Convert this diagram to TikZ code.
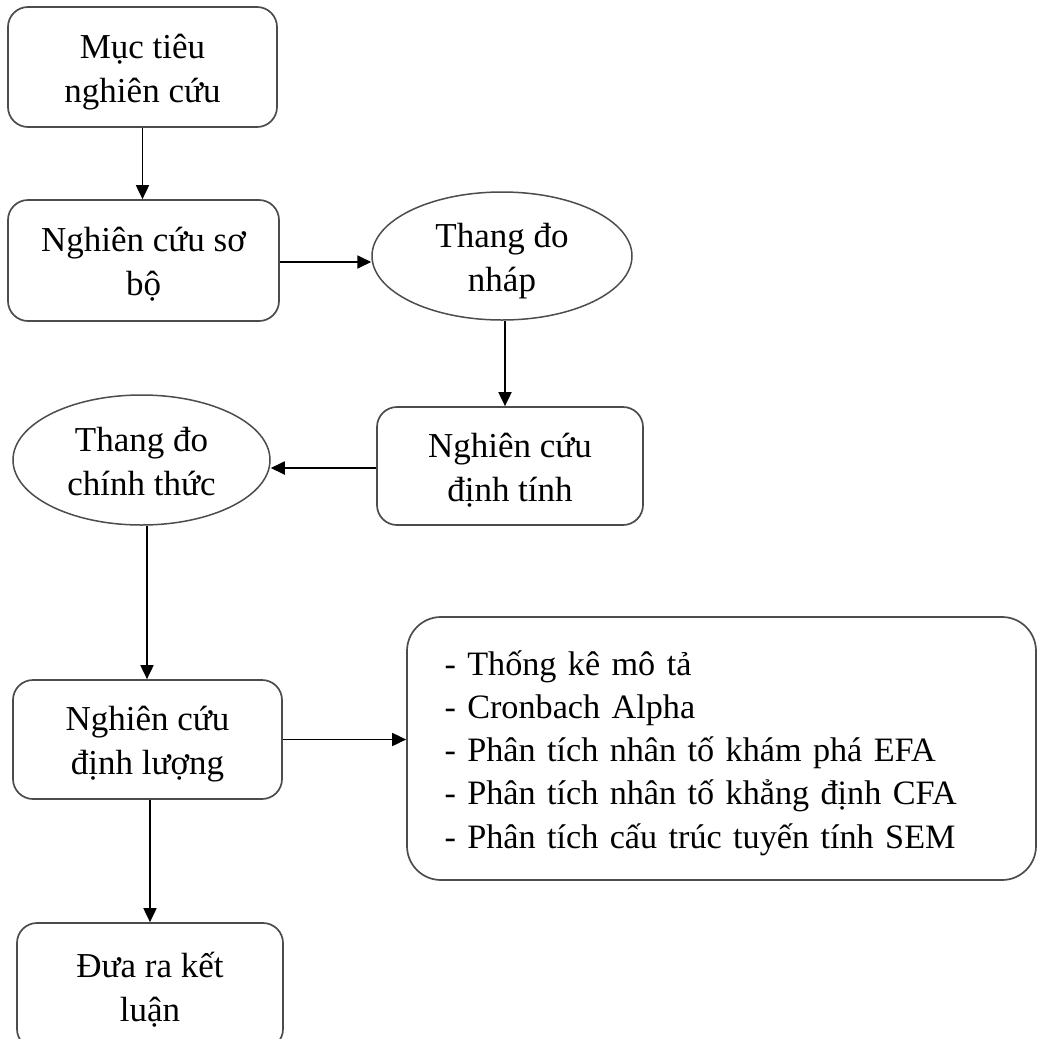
\documentclass[tikz,border=0pt]{standalone}
\usepackage{fontspec}
\setmainfont{Liberation Serif}
\usetikzlibrary{arrows.meta,shapes.geometric,calc}

\begin{document}
\begin{tikzpicture}[x=1pt,y=-1pt,
  txt/.style={font=\fontsize{35}{44}\selectfont, align=center, text=black,
    text height=78pt, text depth=8pt},
  stepbox/.style={txt, draw=black!70, line width=1.7pt, rounded corners=20pt,
    inner sep=0pt},
  oval/.style={txt, ellipse, draw=black!70, line width=1.5pt, inner sep=0pt},
  arr/.style={draw=black, line width=1.8pt, -{Triangle[length=14pt,width=13pt]}}]

\useasboundingbox (0,0) rectangle (1039,1039);

% process boxes and scales
\node[stepbox, minimum width=269pt, minimum height=120pt] (b1) at (142.5,67)
  {Mục tiêu\\nghiên cứu};
\node[stepbox, minimum width=271pt, minimum height=121pt] (b2) at (143.5,260.5)
  {Nghiên cứu sơ\\bộ};
\node[oval, minimum width=260pt, minimum height=128pt] (e1) at (502,256)
  {Thang đo\\nháp};
\node[stepbox, minimum width=266pt, minimum height=118pt] (b3) at (510,466)
  {Nghiên cứu\\định tính};
\node[oval, minimum width=257pt, minimum height=130pt] (e2) at (141.5,460)
  {Thang đo\\chính thức};
\node[stepbox, minimum width=269pt, minimum height=119pt] (b4) at (147.5,739.5)
  {Nghiên cứu\\định lượng};
\node[stepbox, font=\fontsize{34.2}{43.25}\selectfont, text height=30pt,
  text depth=177pt, rounded corners=34pt, minimum width=629pt,
  minimum height=263pt, text width=554pt, align=left, inner xsep=37.5pt]
  (b6) at (721.5,748.5)
  {- Thống kê mô tả\\
   - Cronbach Alpha\\
   - Phân tích nhân tố khám phá EFA\\
   - Phân tích nhân tố khẳng định CFA\\
   - Phân tích cấu trúc tuyến tính SEM};
\node[stepbox, minimum width=266pt, minimum height=126pt] (b5) at (150,986)
  {Đưa ra kết\\luận};

% connectors
\draw[arr] (b1.south) -- (b1.south |- b2.north);
\draw[arr] (b2.east |- 0,262) -- (e1.west |- 0,262);
\draw[arr] ([xshift=3pt]e1.south) -- ([xshift=3pt]e1.south |- b3.north);
\draw[arr] (b3.west |- 0,468) -- (e2.east |- 0,468);
\draw[arr] ([xshift=5.5pt]e2.south) -- ([xshift=5.5pt]e2.south |- b4.north);
\draw[arr] (b4.east) -- (b4.east -| b6.west);
\draw[arr] ([xshift=2.5pt]b4.south) -- ([xshift=2.5pt]b4.south |- b5.north);
\end{tikzpicture}
\end{document}
